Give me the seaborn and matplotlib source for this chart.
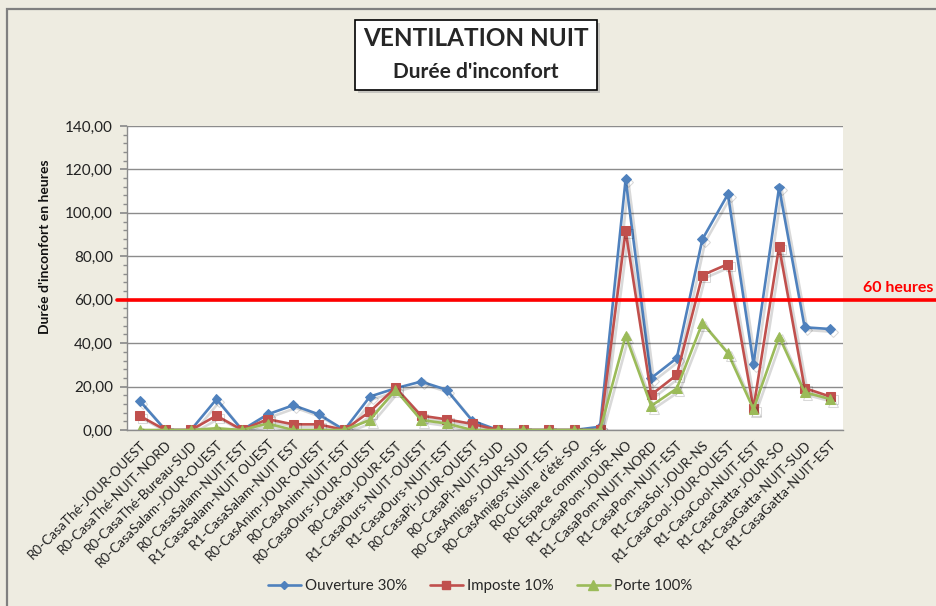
import numpy as np
import pandas as pd
import matplotlib
matplotlib.use("Agg")
import matplotlib.pyplot as plt
import matplotlib.patheffects as pe
from matplotlib.patches import Rectangle
from matplotlib.lines import Line2D
from matplotlib.ticker import MultipleLocator, FuncFormatter
import seaborn as sns

# --- data ---
categories = [
    "R0-CasaThé-JOUR-OUEST", "R0-CasaThé-NUIT-NORD", "R0-CasaThé-Bureau-SUD",
    "R0-CasaSalam-JOUR-OUEST", "R0-CasaSalam-NUIT-EST", "R1-CasaSalam-NUIT OUEST",
    "R1-CasaSalam-NUIT EST", "R0-CasAnim-JOUR-OUEST", "R0-CasAnim-NUIT-EST",
    "R0-CasaOurs-JOUR-OUEST", "R0-Casita-JOUR-EST", "R1-CasaOurs-NUIT-OUEST",
    "R1-CasaOurs-NUIT-EST", "R0-CasaPi-JOUR-OUEST", "R0-CasaPi-NUIT-SUD",
    "R0-CasAmigos-JOUR-SUD", "R0-CasAmigos-NUIT-EST", "R0-Cuisine d'été-SO",
    "R0-Espace commun-SE", "R1-CasaPom-JOUR-NO", "R1-CasaPom-NUIT-NORD",
    "R1-CasaPom-NUIT-EST", "R1-CasaSol-JOUR-NS", "R1-CasaCool-JOUR-OUEST",
    "R1-CasaCool-NUIT-EST", "R1-CasaGatta-JOUR-SO", "R1-CasaGatta-NUIT-SUD",
    "R1-CasaGatta-NUIT-EST",
]
ouverture_30 = [13.4, 0, 0, 14.2, 0, 7.2, 11.4, 7.2, 0, 15.4, 19.2, 22.3, 18.5, 4.3,
                0, 0, 0, 0, 1.5, 115.5, 23.9, 33.1, 87.8, 108.6, 30.4, 111.7, 47.3, 46.5]
imposte_10 = [6.5, 0, 0, 6.6, 0, 5.0, 2.6, 2.6, 0, 8.5, 19.5, 6.6, 4.9, 2.8,
              0, 0, 0, 0, 0, 91.7, 16.2, 25.4, 71.3, 76.4, 10.0, 84.4, 19.3, 15.4]
porte_100 = [0, 0, 0, 0.8, 0, 3.0, 0, 0, 0, 4.6, 18.5, 4.6, 3.0, 0,
             0, 0, 0, 0, 0, 43.5, 11.1, 19.1, 49.3, 35.4, 9.6, 43.1, 17.4, 14.2]
series_names = ["Ouverture 30%", "Imposte 10%", "Porte 100%"]
threshold = 60

BG = "#EEECE1"
colors = {"Ouverture 30%": "#4F81BD", "Imposte 10%": "#C0504D", "Porte 100%": "#9BBB59"}
markers = {"Ouverture 30%": "D", "Imposte 10%": "s", "Porte 100%": "^"}
msizes = {"Ouverture 30%": 5, "Imposte 10%": 6.5, "Porte 100%": 7}

sns.set_theme(style="white")
plt.rcParams["font.family"] = ["Lato", "DejaVu Sans"]

x = np.arange(len(categories))
df = pd.DataFrame({"x": np.tile(x, 3),
                   "value": ouverture_30 + imposte_10 + porte_100,
                   "serie": np.repeat(series_names, len(categories))})

fig = plt.figure(figsize=(9.37, 6.06), dpi=100, facecolor=BG)
ax = fig.add_axes([127 / 937, 1 - 430 / 606, 716 / 937, 304 / 606])
ax.set_facecolor("white")

for name in series_names:
    sub = df[df["serie"] == name]
    sns.lineplot(data=sub, x="x", y="value", ax=ax, color=colors[name], marker=markers[name],
                 markersize=msizes[name], markeredgecolor=colors[name], linewidth=1.9,
                 legend=False, zorder=3)
for line in ax.lines:
    line.set_path_effects([pe.SimpleLineShadow(offset=(2, -2), shadow_color="black", alpha=0.15),
                           pe.Normal()])

# 60 hours threshold, running out to the right edge of the figure
trans = matplotlib.transforms.blended_transform_factory(ax.transAxes, ax.transData)
ax.plot([-0.014, 1.14], [threshold, threshold], color="#FF0000", linewidth=2.6,
        transform=trans, clip_on=False, zorder=5)
fig.text(898 / 937, 1 - 288 / 606, "60 heures", color="#FF0000", fontsize=11.5,
         fontweight="bold", ha="center", va="center")

ax.set_xlim(-0.5, len(categories) - 0.5)
ax.set_ylim(0, 140)
ax.yaxis.set_major_locator(MultipleLocator(20))
ax.yaxis.set_minor_locator(MultipleLocator(4))
ax.yaxis.set_major_formatter(FuncFormatter(lambda v, p: f"{v:.2f}".replace(".", ",")))
ax.grid(axis="y", color="#8C8C8C", linewidth=1)
ax.set_axisbelow(True)

ax.set_xticks(x)
ax.set_xticklabels(categories, rotation=45, ha="right", rotation_mode="anchor",
                   fontsize=9.7, color="#222222")
ax.set_xticks(np.arange(-0.5, len(categories)), minor=True)
ax.tick_params(axis="x", which="major", length=0, pad=6)
ax.tick_params(axis="x", which="minor", length=5, color="#8C8C8C", direction="out")
ax.tick_params(axis="y", which="major", length=5, color="#8C8C8C", direction="out",
               labelsize=11, labelcolor="#222222", pad=5, left=True)
ax.tick_params(axis="y", which="minor", length=3, color="#8C8C8C", direction="out", left=True)
ax.set_xlabel("")
ax.set_ylabel("")

for side in ["top", "right"]:
    ax.spines[side].set_visible(False)
for side in ["left", "bottom"]:
    ax.spines[side].set_color("#8C8C8C")
    ax.spines[side].set_linewidth(1)

fig.text(45 / 937, 1 - 247 / 606, "Durée d'inconfort en heures", rotation=90,
         fontsize=10, fontweight="bold", ha="center", va="center", color="#111111")

# title box with a soft shadow
fig.patches.append(Rectangle((358 / 937, 1 - 93 / 606), 242 / 937, 70 / 606,
                             transform=fig.transFigure, facecolor="#A0A0A0", alpha=0.5,
                             edgecolor="none", zorder=1))
fig.patches.append(Rectangle((355 / 937, 1 - 90 / 606), 242 / 937, 70 / 606,
                             transform=fig.transFigure, facecolor="white",
                             edgecolor="black", linewidth=1.2, zorder=2))
fig.text(476 / 937, 1 - 39 / 606, "VENTILATION NUIT", fontsize=17.5, fontweight="bold",
         ha="center", va="center", zorder=3)
fig.text(476 / 937, 1 - 72 / 606, "Durée d'inconfort", fontsize=15, fontweight="bold",
         ha="center", va="center", zorder=3)

# outer chart border (left and top visible)
fig.patches.append(Rectangle((7.5 / 937, -0.05), 1.2, 1 - 8.5 / 606 + 0.05,
                             transform=fig.transFigure, facecolor="none",
                             edgecolor="#808080", linewidth=1.6, zorder=0))

handles = [Line2D([], [], color=colors[n], marker=markers[n], markersize=msizes[n] - 0.5,
                  linewidth=1.9) for n in series_names]
fig.legend(handles, series_names, loc="center", bbox_to_anchor=(480 / 937, 1 - 586 / 606),
           ncol=3, frameon=False, fontsize=10.8, handlelength=2.2, columnspacing=1.5,
           handletextpad=0.3)

fig.savefig("out.png", dpi=100, facecolor=BG)
